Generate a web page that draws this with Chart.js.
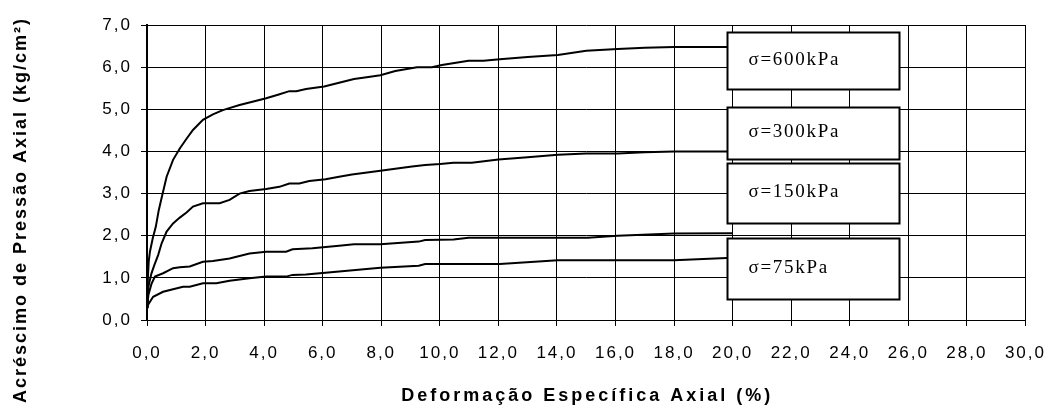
<!DOCTYPE html>
<html>
<head>
<meta charset="utf-8">
<script src="https://cdn.jsdelivr.net/npm/chart.js@4/dist/chart.umd.min.js"></script>
<style>
  html, body { margin: 0; padding: 0; background: #fff; }
  #wrap { width: 1059px; height: 419px; position: relative; }
</style>
</head>
<body>
<div id="wrap"><canvas id="c" width="1059" height="419"></canvas></div>
<script>
// ---- data ----
const seriesNames = ['σ=600kPa', 'σ=300kPa', 'σ=150kPa', 'σ=75kPa'];

const s600X = [0, 0.03, 0.06, 0.1, 0.2, 0.3, 0.4, 0.51, 0.67, 0.89, 1.12, 1.35, 1.57, 1.91, 2.25, 2.59, 3.16, 3.6, 4.07, 4.5, 4.86, 5.1, 5.43, 6.05, 6.56, 7.07, 7.5, 7.97, 8.48, 9.22, 9.73, 10.07, 10.5, 10.98, 11.49, 12.05, 13.0, 14.03, 15.0, 16.07, 17.0, 18.0, 19.0, 20.0];
const s600Y = [0.3, 1.0, 1.4, 1.62, 1.95, 2.21, 2.6, 2.93, 3.40, 3.80, 4.07, 4.3, 4.51, 4.75, 4.88, 4.98, 5.10, 5.18, 5.26, 5.35, 5.43, 5.43, 5.48, 5.54, 5.63, 5.72, 5.76, 5.81, 5.91, 6.0, 6.0, 6.05, 6.10, 6.15, 6.15, 6.19, 6.24, 6.29, 6.39, 6.43, 6.46, 6.48, 6.48, 6.48];

const s300X = [0, 0.05, 0.15, 0.25, 0.38, 0.5, 0.67, 0.89, 1.12, 1.35, 1.57, 1.91, 2.48, 2.82, 3.16, 3.5, 4.07, 4.52, 4.86, 5.2, 5.54, 6.1, 6.56, 7.0, 7.97, 9.05, 9.5, 10.01, 10.47, 11.09, 12.0, 13.0, 14.03, 15.0, 16.07, 17.0, 18.0, 19.0, 20.0];
const s300Y = [0.3, 0.8, 1.1, 1.3, 1.54, 1.82, 2.10, 2.29, 2.43, 2.55, 2.69, 2.77, 2.77, 2.85, 3.0, 3.06, 3.11, 3.16, 3.24, 3.24, 3.30, 3.34, 3.40, 3.45, 3.54, 3.64, 3.68, 3.70, 3.73, 3.73, 3.81, 3.86, 3.92, 3.95, 3.95, 3.98, 4.0, 4.0, 4.0];

const s150X = [0, 0.05, 0.15, 0.27, 0.55, 0.89, 1.12, 1.46, 1.91, 2.25, 2.82, 3.16, 3.5, 4.07, 4.75, 4.97, 5.65, 6.56, 7.07, 7.97, 9.28, 9.5, 10.47, 10.98, 15.05, 16.07, 18.0, 20.0];
const s150Y = [0.3, 0.6, 0.85, 1.03, 1.11, 1.23, 1.25, 1.27, 1.38, 1.40, 1.46, 1.52, 1.58, 1.62, 1.62, 1.68, 1.70, 1.76, 1.80, 1.80, 1.86, 1.90, 1.91, 1.95, 1.95, 2.0, 2.05, 2.06];

const s75X = [0, 0.21, 0.55, 0.89, 1.23, 1.46, 1.91, 2.37, 2.82, 3.5, 4.07, 4.75, 4.97, 5.43, 6.56, 7.97, 9.28, 9.5, 12.05, 14.03, 18.0, 20.0];
const s75Y = [0.32, 0.55, 0.67, 0.73, 0.79, 0.79, 0.87, 0.87, 0.93, 0.99, 1.03, 1.03, 1.07, 1.08, 1.15, 1.24, 1.29, 1.33, 1.33, 1.42, 1.42, 1.48];

const xTickLabels = ['0,0','2,0','4,0','6,0','8,0','10,0','12,0','14,0','16,0','18,0','20,0','22,0','24,0','26,0','28,0','30,0'];
const yTickLabels = ['0,0','1,0','2,0','3,0','4,0','5,0','6,0','7,0'];

const xTitle = 'Deformação Específica Axial (%)';
const yTitle = 'Acréscimo de Pressão Axial (kg/cm²)';

// ---- label boxes (data coords) ----
const labelBoxes = [
  { text: seriesNames[0], x0: 19.81, x1: 25.69, yTop: 6.84, yBot: 5.48 },
  { text: seriesNames[1], x0: 19.81, x1: 25.69, yTop: 5.06, yBot: 3.82 },
  { text: seriesNames[2], x0: 19.81, x1: 25.69, yTop: 3.73, yBot: 2.30 },
  { text: seriesNames[3], x0: 19.81, x1: 25.69, yTop: 1.95, yBot: 0.50 }
];

function toPts(xs, ys) { return xs.map((x, i) => ({ x: x, y: ys[i] })); }

const lineStyle = { borderColor: '#000', borderWidth: 2, pointRadius: 0, showLine: true, tension: 0, fill: false };

function setSpacing(ctx, v) { try { ctx.letterSpacing = v; } catch (e) {} }

const spacingPlugin = {
  id: 'spacing',
  beforeDraw(chart) { setSpacing(chart.ctx, '2px'); },
  beforeDatasetsDraw(chart) { setSpacing(chart.ctx, '0px'); }
};

// axis titles (placed like the reference, outside the scale extents)
const titlesPlugin = {
  id: 'titles',
  afterDraw(chart) {
    const ctx = chart.ctx, area = chart.chartArea;
    ctx.save();
    ctx.fillStyle = '#000';
    ctx.textAlign = 'center';
    ctx.textBaseline = 'middle';
    ctx.font = 'bold 18px Arial, "Liberation Sans", sans-serif';
    setSpacing(ctx, '3px');
    ctx.fillText(xTitle, (area.left + area.right) / 2 + 1, 396);
    setSpacing(ctx, '2px');
    ctx.translate(21, 210);
    ctx.rotate(-Math.PI / 2);
    ctx.fillText(yTitle, 0, 0);
    setSpacing(ctx, '0px');
    ctx.restore();
  }
};

const boxPlugin = {
  id: 'boxes',
  afterDatasetsDraw(chart) {
    const ctx = chart.ctx, xs = chart.scales.x, ys = chart.scales.y;
    ctx.save();
    labelBoxes.forEach(b => {
      const l = Math.round(xs.getPixelForValue(b.x0)) + 0.5;
      const r = Math.round(xs.getPixelForValue(b.x1)) + 0.5;
      const t = Math.round(ys.getPixelForValue(b.yTop)) + 0.5;
      const bt = Math.round(ys.getPixelForValue(b.yBot)) + 0.5;
      ctx.fillStyle = '#fff';
      ctx.fillRect(l, t, r - l, bt - t);
      ctx.strokeStyle = '#000';
      ctx.lineWidth = 2;
      ctx.strokeRect(l, t, r - l, bt - t);
      ctx.fillStyle = '#000';
      ctx.font = '19px "Liberation Serif", "Times New Roman", serif';
      setSpacing(ctx, '1.7px');
      ctx.textBaseline = 'middle';
      ctx.textAlign = 'left';
      ctx.fillText(b.text, l + 21, (t + bt) / 2 - 1);
      setSpacing(ctx, '0px');
    });
    ctx.restore();
  }
};

new Chart(document.getElementById('c'), {
  type: 'scatter',
  data: {
    datasets: [
      Object.assign({ label: seriesNames[0], data: toPts(s600X, s600Y) }, lineStyle),
      Object.assign({ label: seriesNames[1], data: toPts(s300X, s300Y) }, lineStyle),
      Object.assign({ label: seriesNames[2], data: toPts(s150X, s150Y) }, lineStyle),
      Object.assign({ label: seriesNames[3], data: toPts(s75X, s75Y) }, lineStyle)
    ]
  },
  options: {
    responsive: false,
    animation: false,
    events: [],
    layout: { padding: { left: 0, top: 25, right: 29, bottom: 0 } },
    plugins: { legend: { display: false }, tooltip: { enabled: false } },
    scales: {
      x: {
        type: 'linear', min: 0, max: 30,
        afterFit(s) { s.height = 99; },
        ticks: {
          stepSize: 2, color: '#000', padding: 17, maxRotation: 0,
          font: { family: 'Arial, "Liberation Sans", sans-serif', size: 17 },
          callback: (v) => xTickLabels[Math.round(v / 2)]
        },
        grid: { color: '#000', lineWidth: 1, tickLength: 6, drawTicks: true },
        border: { color: '#000', width: 1 },
        title: { display: false, text: xTitle }
      },
      y: {
        type: 'linear', min: 0, max: 7,
        afterFit(s) { s.width = 147; },
        ticks: {
          stepSize: 1, color: '#000', padding: 9,
          font: { family: 'Arial, "Liberation Sans", sans-serif', size: 17 },
          callback: (v) => yTickLabels[Math.round(v)]
        },
        grid: { color: '#000', lineWidth: 1, tickLength: 6, drawTicks: true },
        border: { color: '#000', width: 2 },
        title: { display: false, text: yTitle }
      }
    }
  },
  plugins: [spacingPlugin, boxPlugin, titlesPlugin]
});
</script>
</body>
</html>
